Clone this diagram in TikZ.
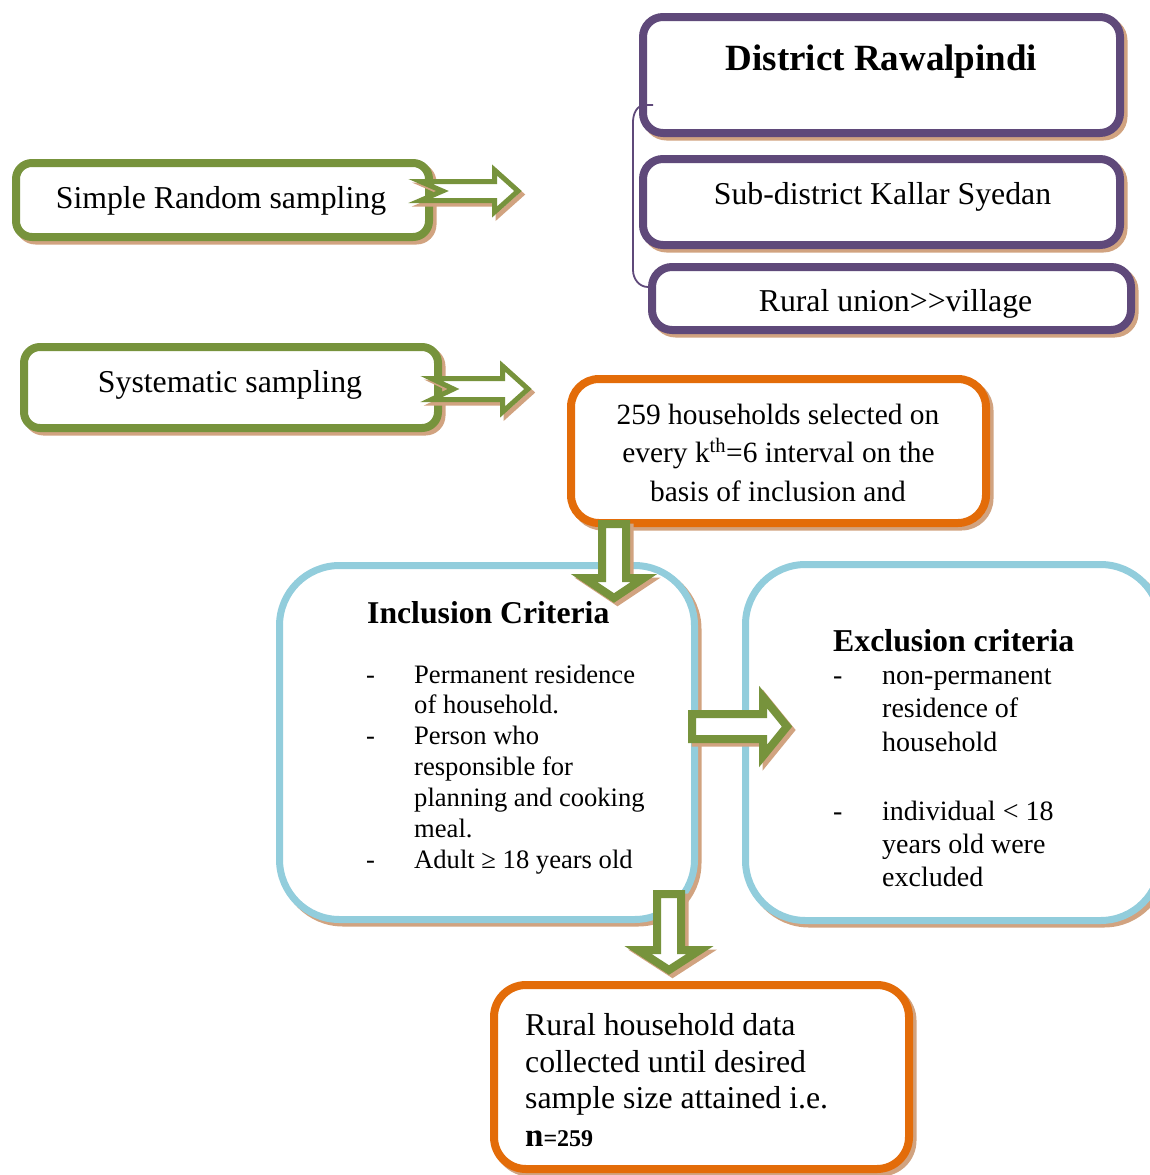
\documentclass[tikz,border=0pt]{standalone}
\usepackage{fontspec}
\setmainfont{Liberation Serif}
\usetikzlibrary{calc}
\definecolor{cgreen}{RGB}{119,147,60}
\definecolor{cpurple}{RGB}{95,73,122}
\definecolor{corange}{RGB}{227,108,9}
\definecolor{cblue}{RGB}{146,205,220}
\definecolor{ctan}{RGB}{209,163,128}
% right block arrow: #1 style, #2 tail x, #3 notch depth, #4 head base x, #5 tip x, #6 centre y, #7 shaft half, #8 head half
\newcommand{\arrRight}[8]{%
  \path[#1] (#2,{#6-#7}) -- (#4,{#6-#7}) -- (#4,{#6-#8}) -- (#5,#6) -- (#4,{#6+#8})
    -- (#4,{#6+#7}) -- (#2,{#6+#7}) -- ({#2+#3},#6) -- cycle;}
% down block arrow: #1 style, #2 centre x, #3 top y, #4 head base y, #5 tip y, #6 shaft half, #7 head half
\newcommand{\arrDown}[7]{%
  \path[#1] ({#2-#6},#3) -- ({#2+#6},#3) -- ({#2+#6},#4) -- ({#2+#7},#4) -- (#2,#5)
    -- ({#2-#7},#4) -- ({#2-#6},#4) -- cycle;}
\begin{document}
\begin{tikzpicture}[x=1pt,y=-1pt,
  box/.style={rectangle, inner sep=0pt, fill=white, draw=#1},
  shad/.style={preaction={draw=ctan, line width=#1, transform canvas={shift={(3.5pt,-3.5pt)}}}},
  gbox/.style={box=cgreen, line width=8pt, rounded corners=16pt, shad=8pt},
  pbox/.style={box=cpurple, line width=8pt, rounded corners=20pt, shad=8pt},
  obox/.style={box=corange, line width=8pt, rounded corners=28pt, shad=8pt},
  bbox/.style={box=cblue, line width=7pt, rounded corners=60pt, shad=7pt},
  tx/.style={inner sep=0pt, anchor=base, font=\fontsize{31.8pt}{36pt}\selectfont},
  txl/.style={tx, anchor=base west},
  arrsh/.style={draw=ctan, line width=#1, shift={(3.5pt,-3.5pt)}, line join=miter},
  arrmain/.style={draw=cgreen, fill=white, line width=#1, line join=miter},
  brk/.style={draw=cpurple, line width=1.8pt}
]
\useasboundingbox (0,0) rectangle (1150,1175);
\clip (0,0) rectangle (1150,1175);

% ---- boxes ----
\node[gbox, minimum width=413pt, minimum height=74pt] (srs) at (222.5,200) {};
\node[gbox, minimum width=414pt, minimum height=81pt] (sys) at (231,387.5) {};
\node[pbox, minimum width=477pt, minimum height=116pt] (dist) at (881.5,75) {};
\node[pbox, minimum width=477pt, minimum height=86pt] (sub) at (881.5,202) {};
\node[pbox, minimum width=479pt, minimum height=63pt] (rur) at (891.5,298.5) {};
\node[obox, minimum width=415pt, minimum height=144pt] (hh) at (778.5,451) {};
\node[bbox, minimum width=415pt, minimum height=354pt] (inc) at (487,742.5) {};
\node[bbox, minimum width=415pt, minimum height=356pt] (exc) at (953,742.5) {};
\node[obox, rounded corners=32pt, minimum width=415pt, minimum height=184pt] (fin) at (701.5,1077) {};

% ---- bracket ----
\coordinate (bA) at (653,105);
\coordinate (bB) at (648,287);
\draw[brk] (bA) -- (645,105) to[out=180,in=90] (633,122) -- (633,270) to[out=-90,in=180] (bB);

% ---- texts ----
\node[tx] (t1) at (221,208) {Simple Random sampling};
\node[tx] (t2) at (230,392) {Systematic sampling};
\node[tx, font=\fontsize{37pt}{40pt}\selectfont\bfseries] (t3) at (881.5,70) {District Rawalpindi};
\node[tx] (t4) at (882.5,204) {Sub-district Kallar Syedan};
\node[tx] (t5) at (895.5,311) {Rural union>\kern0pt>village};

\node[tx, font=\fontsize{29.4pt}{33pt}\selectfont] (h1) at (778,424) {259 households selected on};
\node[tx, font=\fontsize{29.4pt}{33pt}\selectfont] (h2) at (778.5,462) {every k\textsuperscript{th}=6 interval on the};
\node[tx, font=\fontsize{29.4pt}{33pt}\selectfont] (h3) at (778,501) {basis of inclusion and};

\node[txl, font=\fontsize{31.7pt}{36pt}\selectfont\bfseries] (ih) at (367,623) {Inclusion Criteria};
\foreach \yy/\ww [count=\i] in {683/Permanent residence, 713.5/of household., 744/Person who,
    775/responsible for, 806/planning and cooking, 837/meal., 868/Adult ≥ 18 years old}
  \node[txl, font=\fontsize{26.6pt}{31pt}\selectfont] (il\i) at (414,\yy) {\ww};
\foreach \yy [count=\i] in {683,744,868}
  \node[txl, font=\fontsize{26.6pt}{31pt}\selectfont] (id\i) at (366,\yy) {-};

\node[txl, font=\fontsize{31.8pt}{36pt}\selectfont\bfseries] (eh) at (833,651) {Exclusion criteria};
\foreach \yy/\ww [count=\i] in {684/non-permanent, 717/residence of, 751/household,
    820/individual < 18, 853/years old were, 886/excluded}
  \node[txl, font=\fontsize{28pt}{33pt}\selectfont] (el\i) at (882,\yy) {\ww};
\foreach \yy [count=\i] in {684,820}
  \node[txl, font=\fontsize{28pt}{33pt}\selectfont] (ed\i) at (833,\yy) {-};

\node[txl] (f1) at (525,1035) {Rural household data};
\node[txl] (f2) at (525,1072) {collected until desired};
\node[txl] (f3) at (525,1108) {sample size attained i.e.};
\node[txl, font=\fontsize{33pt}{36pt}\selectfont\bfseries] (f4) at (525,1146) {n{\fontsize{24pt}{26pt}\selectfont =259}};

% ---- block arrows ----
\arrRight{arrsh=5pt}{420.5}{22}{494.5}{518}{191}{9.5}{21}
\arrRight{arrmain=5pt}{420.5}{22}{494.5}{518}{191}{9.5}{21}
\arrRight{arrsh=5pt}{431.5}{22}{502.5}{528}{389}{10.5}{23}
\arrRight{arrmain=5pt}{431.5}{22}{502.5}{528}{389}{10.5}{23}
\arrDown{arrsh=8pt}{614}{524}{578}{598}{12}{30}
\arrDown{arrmain=8pt}{614}{524}{578}{598}{12}{30}
\arrRight{arrsh=8pt}{692}{0}{763}{787}{726.5}{12.5}{29.5}
\arrRight{arrmain=8pt}{692}{0}{763}{787}{726.5}{12.5}{29.5}
\arrDown{arrsh=8pt}{669}{894}{950}{970}{12}{31}
\arrDown{arrmain=8pt}{669}{894}{950}{970}{12}{31}
\end{tikzpicture}
\end{document}
